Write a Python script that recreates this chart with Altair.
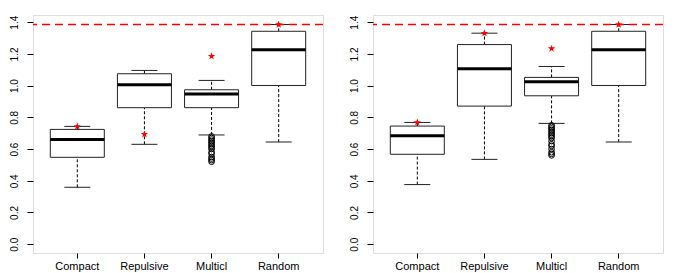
import altair as alt
import pandas as pd

categories = ["Compact", "Repulsive", "Multicl", "Random"]

# Left panel statistics
left_lower = [0.359, 0.630, 0.689, 0.644]
left_q1 = [0.548, 0.861, 0.861, 1.001]
left_median = [0.661, 1.005, 0.947, 1.226]
left_q3 = [0.724, 1.075, 0.974, 1.343]
left_upper = [0.743, 1.096, 1.033, 1.385]
left_star = [0.743, 0.693, 1.186, 1.385]
left_multicl_outliers = [0.68, 0.67, 0.66, 0.65, 0.64, 0.63, 0.62, 0.61, 0.60,
                         0.58, 0.57, 0.55, 0.54, 0.53, 0.52]

# Right panel statistics
right_lower = [0.376, 0.535, 0.762, 0.644]
right_q1 = [0.567, 0.871, 0.936, 1.001]
right_median = [0.684, 1.106, 1.024, 1.226]
right_q3 = [0.745, 1.259, 1.052, 1.343]
right_upper = [0.768, 1.331, 1.121, 1.385]
right_star = [0.768, 1.331, 1.234, 1.385]
right_multicl_outliers = [0.75, 0.74, 0.73, 0.72, 0.71, 0.70, 0.69, 0.68, 0.67,
                          0.65, 0.63, 0.62, 0.60, 0.58, 0.57, 0.56]

reference_value = 1.385
y_ticks = [0.0, 0.2, 0.4, 0.6, 0.8, 1.0, 1.2, 1.4]

STAR = ("M0,-1L0.235,-0.324L0.951,-0.309L0.38,0.124L0.588,0.809L0,0.4"
        "L-0.588,0.809L-0.38,0.124L-0.951,-0.309L-0.235,-0.324Z")

PW, PH = 290, 238


def panel(lower, q1, med, q3, upper, star, outliers):
    stats = pd.DataFrame({"cat": categories, "lo": lower, "q1": q1, "med": med,
                          "q3": q3, "hi": upper, "star": star})
    out = pd.DataFrame({"cat": ["Multicl"] * len(outliers), "v": outliers})
    ref = pd.DataFrame({"v": [reference_value]})

    x = alt.X("cat:N",
              scale=alt.Scale(domain=categories, paddingInner=0, paddingOuter=0.16),
              axis=alt.Axis(title=None, labelAngle=0, domain=False, ticks=True,
                            tickSize=5, tickColor="black", labelColor="black",
                            labelFontSize=11, labelPadding=2,
                            labelFont="Liberation Sans"))
    yscale = alt.Scale(domain=[-0.0556, 1.4456], nice=False, zero=False)
    yaxis = alt.Axis(title=None, values=y_ticks, format=".1f", grid=False,
                     domain=False, tickSize=6, tickColor="black",
                     labelColor="black", labelFontSize=10, labelAngle=270,
                     labelPadding=8, labelFont="Liberation Sans",
                     labelOverlap=False, labelBound=False, labelFlush=False)

    def Y(field):
        return alt.Y(field, scale=yscale, axis=yaxis)

    base = alt.Chart(stats)
    whisk_lo = base.mark_rule(color="black", strokeDash=[3, 2], strokeWidth=1).encode(
        x=x, y=Y("lo:Q"), y2="q1:Q")
    whisk_hi = base.mark_rule(color="black", strokeDash=[3, 2], strokeWidth=1).encode(
        x=x, y=Y("q3:Q"), y2="hi:Q")
    box = base.mark_bar(size=54, fill="white", stroke="#222", strokeWidth=1,
                        opacity=1).encode(x=x, y=Y("q1:Q"), y2="q3:Q")
    medl = base.mark_tick(size=54, thickness=3, color="black", opacity=1).encode(
        x=x, y=Y("med:Q"))
    cap_lo = base.mark_tick(size=26, thickness=1, color="#222", opacity=1).encode(
        x=x, y=Y("lo:Q"))
    cap_hi = base.mark_tick(size=26, thickness=1, color="#222", opacity=1).encode(
        x=x, y=Y("hi:Q"))
    outs = alt.Chart(out).mark_point(shape="circle", filled=False, color="black",
                                     size=32, strokeWidth=1, opacity=1).encode(
        x=x, y=Y("v:Q"))
    stars = base.mark_point(shape=STAR, filled=True, color="red", size=60,
                            opacity=1).encode(x=x, y=Y("star:Q"))
    refl = alt.Chart(ref).mark_rule(color="red", strokeDash=[8, 5],
                                    strokeWidth=1.5).encode(y=Y("v:Q"))

    return alt.layer(whisk_lo, whisk_hi, box, medl, cap_lo, cap_hi, outs, stars,
                     refl).properties(width=PW, height=PH)


left = panel(left_lower, left_q1, left_median, left_q3, left_upper, left_star,
             left_multicl_outliers)
right = panel(right_lower, right_q1, right_median, right_q3, right_upper, right_star,
              right_multicl_outliers)

chart = alt.hconcat(left, right, spacing=23).properties(
    padding={"left": 0, "top": 6, "right": 0, "bottom": 0}
).configure_view(stroke="#222", strokeWidth=1).configure(background="white")

chart.save("out.html", embed_options={"renderer": "svg", "actions": False})
